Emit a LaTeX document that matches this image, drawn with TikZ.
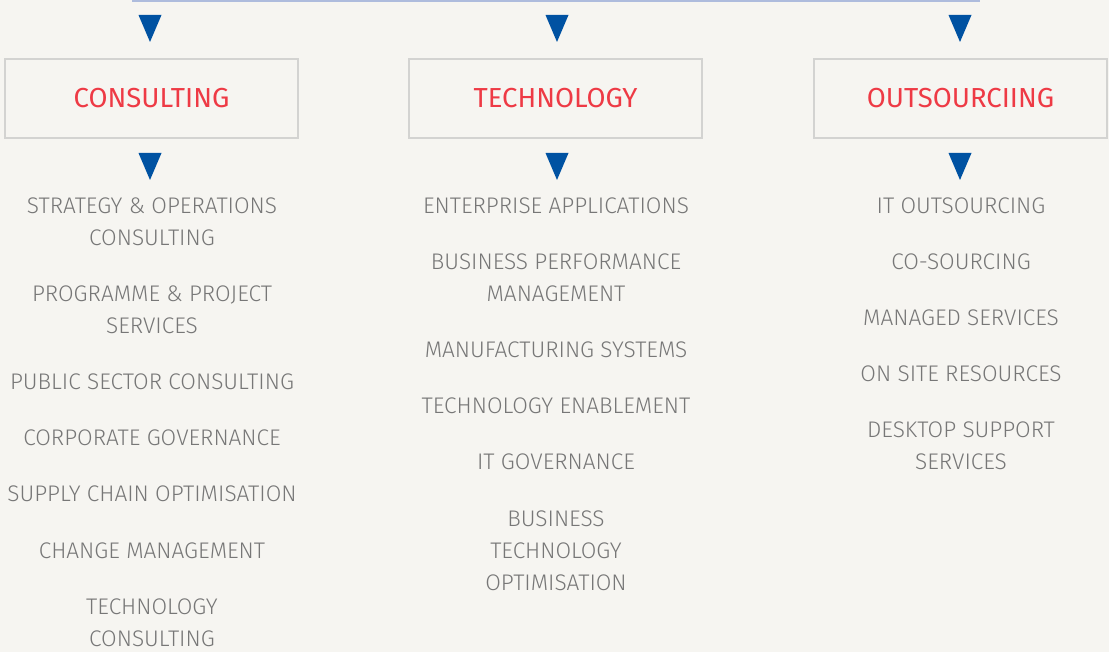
\documentclass[tikz,border=0pt]{standalone}
\usepackage{fontspec}
\setmainfont{Fira Sans}[UprightFont=* Light, BoldFont=*]
\usetikzlibrary{positioning}
\definecolor{paper}{HTML}{F6F5F1}
\definecolor{topline}{HTML}{AEBCDD}
\definecolor{triblue}{HTML}{0052A2}
\definecolor{boxgray}{HTML}{D3D3D1}
\definecolor{titlered}{HTML}{EE3A45}
\definecolor{itemgray}{HTML}{777777}

\begin{document}
\begin{tikzpicture}[
			x=1pt, y=-1pt,
			every node/.style={inner sep=0pt},
			area/.style={draw=boxgray, line width=1.2pt, minimum width=293pt, minimum height=79pt,
					text=titlered, font=\bfseries\fontsize{27.5}{27.5}\selectfont},
			item/.style={align=center, anchor=base, text=itemgray,
					font=\fontsize{22.6}{32}\selectfont},
			tri/.style={fill=triblue}
		]

		% page
		\fill[paper] (0,0) rectangle (1109,652);
		\useasboundingbox (0,0) rectangle (1109,652);

		% line across the top
		\coordinate (lineL) at (132,1);
		\coordinate (lineR) at (980,1);
		\draw[topline, line width=2.5pt] (lineL) -- (lineR);

		% triangles above and below the boxes
		\foreach \x in {150,557,960} {
				\fill[tri] (\x-11.5,15) -- (\x+11.5,15) -- (\x,42) -- cycle;
				\fill[tri] (\x-11.5,153) -- (\x+11.5,153) -- (\x,180) -- cycle;
			}

		% the three areas
		\node[area] (consulting) at (151.5,98.5) {CONSULTING};
		\node[area] (technology) at (555.5,98.5) {TECHNOLOGY};
		\node[area] (outsourcing) at (960.5,98.5) {OUTSOURCIING};

		% consulting services (y = middle of the last line)
		\foreach \y/\txt [count=\i] in {
				237/{STRATEGY \& OPERATIONS\\CONSULTING},
				325/{PROGRAMME \& PROJECT\\SERVICES},
				381/{PUBLIC SECTOR CONSULTING},
				437/{CORPORATE GOVERNANCE},
				493/{SUPPLY CHAIN OPTIMISATION},
				550/{CHANGE MANAGEMENT},
				638/{TECHNOLOGY\\CONSULTING}} {
				\node[item] (con\i) at (152,\y+8.5) {\txt};
			}

		% technology services
		\foreach \y/\txt [count=\i] in {
				205/{ENTERPRISE APPLICATIONS},
				293/{BUSINESS PERFORMANCE\\MANAGEMENT},
				349/{MANUFACTURING SYSTEMS},
				405/{TECHNOLOGY ENABLEMENT},
				461/{IT GOVERNANCE},
				582/{BUSINESS\\TECHNOLOGY\\OPTIMISATION}} {
				\node[item] (tec\i) at (556,\y+8.5) {\txt};
			}

		% outsourcing services
		\foreach \y/\txt [count=\i] in {
				205/{IT OUTSOURCING},
				261/{CO-SOURCING},
				317/{MANAGED SERVICES},
				373/{ON SITE RESOURCES},
				461/{DESKTOP SUPPORT\\SERVICES}} {
				\node[item] (out\i) at (961,\y+8.5) {\txt};
			}

	\end{tikzpicture}
\end{document}
